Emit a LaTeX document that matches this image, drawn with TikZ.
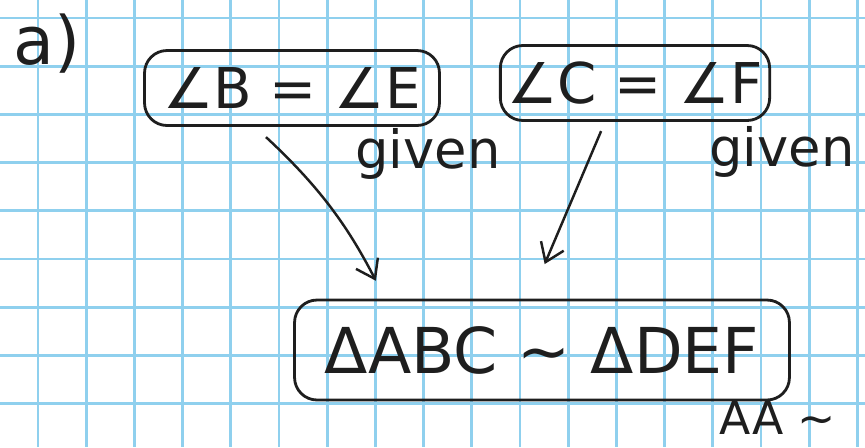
\documentclass[tikz,border=0pt]{standalone}
\usepackage{fontspec}
\setmainfont{DejaVu Sans}
\usetikzlibrary{arrows.meta,positioning}
\definecolor{gridblue}{HTML}{8FD0EE}
\definecolor{pen}{HTML}{1E1E1E}
\tikzset{
  claimbox/.style={
    rectangle, rounded corners=0.45cm, draw=pen, line width=1.6pt,
    minimum width=#1, minimum height=1.5cm,
    font=\fontsize{32}{36}\selectfont, text=pen, inner sep=4pt
  },
  claimbox/.default=5.5cm,
  reason/.style={font=\fontsize{30}{34}\selectfont, text=pen},
  implies/.style={-{Straight Barb[length=10pt,width=14pt]}, line width=1.4pt, draw=pen},
  gridline/.style={draw=gridblue, line width=1.5pt},
}
\begin{document}
\begin{tikzpicture}[x=0.02cm, y=-0.02cm]
  \useasboundingbox (0,0) rectangle (865,447);
  % grid paper
  \foreach \i in {0,...,17} \draw[gridline] ({38+48.2*\i},0) -- ({38+48.2*\i},447);
  \foreach \j in {0,...,8} \draw[gridline] (0,{18+48.2*\j}) -- (865,{18+48.2*\j});

  % part label
  \node[reason, font=\fontsize{38}{42}\selectfont] (part) at (47,44) {a)};

  % given angles
  \node[claimbox=5.9cm] (angB) at (292,88) {∠B = ∠E};
  \node[claimbox=5.2cm] (angC) at (635,83) {∠C = ∠F};
  \node[reason] (given1) at (428,154) {given};
  \node[reason] (given2) at (782,152) {given};

  % conclusion
  \node[claimbox=9.9cm, minimum height=2cm, font=\fontsize{36}{40}\selectfont] (simTri) at (542,350) {ΔABC ∼ ΔDEF};
  \node[reason, font=\fontsize{26}{29}\selectfont, inner sep=1pt] (why) at (778,418) {AA ∼};

  % arrows
  \draw[implies, shorten <=0.3cm, shorten >=0.4cm] ([xshift=-0.74cm]angB.south) to[bend left=10] ([xshift=-3.14cm]simTri.north);
  \draw[implies, shorten <=0.2cm, shorten >=0.75cm] ([xshift=-0.6cm]angC.south) -- ([xshift=-0.24cm]simTri.north);
\end{tikzpicture}
\end{document}
